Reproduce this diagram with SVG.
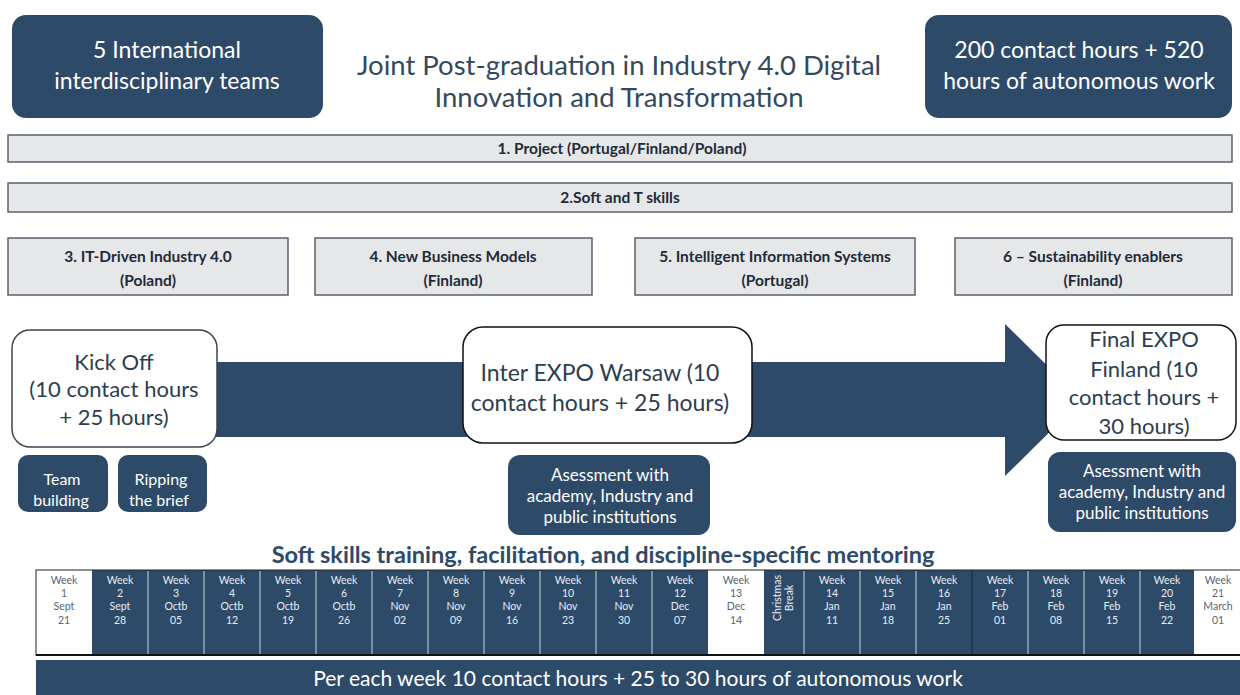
<svg xmlns="http://www.w3.org/2000/svg" width="1240" height="695" viewBox="0 0 1240 695">
<style>
text{font-family:Lato,"Open Sans","Liberation Sans",sans-serif;text-anchor:middle}
.dark{fill:#2e4a69}
.wt{fill:#ffffff}
.bar{fill:#e6e7e9;stroke:#59626d;stroke-width:1.5}
.bt{font-weight:bold;font-size:15.5px;fill:#1f2b38}
.big{font-size:22px;fill:#2c3e50}
.cell{font-size:10.5px}
.sm{font-size:17px;fill:#ffffff}
.sep{stroke:#c9d2dc;stroke-width:1}
</style>
<rect width="1240" height="695" fill="#ffffff"/>
<g id="teams">
<rect x="12" y="15" width="311" height="103" rx="14" class="dark"/>
<text x="167" y="58" font-size="23" class="wt">5 International</text>
<text x="167" y="89" font-size="23" class="wt">interdisciplinary teams</text>
</g>
<g id="title">
<text x="619" y="75" font-size="27.5" fill="#34495e">Joint Post-graduation in Industry 4.0 Digital</text>
<text x="619" y="107" font-size="27.5" fill="#34495e">Innovation and Transformation</text>
</g>
<g id="hours">
<rect x="925" y="15" width="307" height="103" rx="14" class="dark"/>
<text x="1079" y="58" font-size="23" class="wt">200 contact hours + 520</text>
<text x="1079" y="89" font-size="23" class="wt">hours of autonomous work</text>
</g>
<g id="m1"><rect x="8" y="135" width="1224" height="27" class="bar"/><text x="622" y="154" class="bt">1. Project (Portugal/Finland/Poland)</text></g>
<g id="m2"><rect x="8" y="183" width="1224" height="29" class="bar"/><text x="620" y="203" class="bt">2.Soft and T skills</text></g>
<g id="m3"><rect x="8" y="238" width="280" height="57" class="bar"/><text x="148" y="262" class="bt">3. IT-Driven Industry 4.0</text><text x="148" y="286" class="bt">(Poland)</text></g>
<g id="m4"><rect x="315" y="238" width="277" height="57" class="bar"/><text x="453" y="262" class="bt">4. New Business Models</text><text x="453" y="286" class="bt">(Finland)</text></g>
<g id="m5"><rect x="635" y="238" width="280" height="57" class="bar"/><text x="775" y="262" class="bt">5. Intelligent Information Systems</text><text x="775" y="286" class="bt">(Portugal)</text></g>
<g id="m6"><rect x="955" y="238" width="277" height="57" class="bar"/><text x="1093" y="262" class="bt">6 – Sustainability enablers</text><text x="1093" y="286" class="bt">(Finland)</text></g>
<g id="connectors">
<polygon points="200,362 1005,362 1005,324 1082,400 1005,476 1005,437 200,437" class="dark"/>
</g>
<g id="kickoff">
<rect x="12" y="330" width="205" height="117" rx="18" fill="#ffffff" stroke="#3a4550" stroke-width="1.5"/>
<text x="114" y="370" class="big">Kick Off</text>
<text x="114" y="397" class="big">(10 contact hours</text>
<text x="114" y="425" class="big">+ 25 hours)</text>
</g>
<g id="interexpo">
<rect x="463" y="327" width="289" height="116" rx="20" fill="#ffffff" stroke="#111111" stroke-width="1.5"/>
<text x="600" y="381" font-size="23" fill="#2c3e50">Inter EXPO Warsaw (10</text>
<text x="600" y="411" font-size="23" fill="#2c3e50">contact hours + 25 hours)</text>
</g>
<g id="finalexpo">
<rect x="1046" y="325" width="190" height="115" rx="18" fill="#ffffff" stroke="#111111" stroke-width="1.5"/>
<text x="1144" y="347" class="big">Final EXPO</text>
<text x="1144" y="377" class="big">Finland (10</text>
<text x="1144" y="405" class="big">contact hours +</text>
<text x="1144" y="434" class="big">30 hours)</text>
</g>
<g id="team"><rect x="18" y="455" width="90" height="57" rx="10" class="dark"/><text x="62" y="485" font-size="16" class="wt">Team</text><text x="61" y="506" font-size="16" class="wt">building</text></g>
<g id="ripping"><rect x="118" y="455" width="89" height="57" rx="10" class="dark"/><text x="161" y="485" font-size="16" class="wt">Ripping</text><text x="159" y="506" font-size="16" class="wt">the brief</text></g>
<g id="assess1"><rect x="508" y="455" width="202" height="80" rx="12" class="dark"/><text x="610" y="481" class="sm">Asessment with</text><text x="610" y="502" class="sm">academy, Industry and</text><text x="610" y="523" class="sm">public  institutions</text></g>
<g id="assess2"><rect x="1048" y="452" width="188" height="80" rx="12" class="dark"/><text x="1142" y="477" class="sm">Asessment with</text><text x="1142" y="498" class="sm">academy, Industry and</text><text x="1142" y="519" class="sm">public  institutions</text></g>
<g id="softskills"><text x="603" y="563" font-size="23.5" font-weight="bold" fill="#2e4a69">Soft skills training, facilitation, and discipline-specific mentoring</text></g>
<g id="weeks">
<rect x="36" y="570" width="1210" height="85" class="dark"/>
<rect x="36" y="570" width="56" height="85" fill="#ffffff"/>
<rect x="708" y="570" width="56" height="85" fill="#ffffff"/>
<rect x="1194" y="570" width="50" height="85" fill="#ffffff"/>
<g class="sep">
<line x1="148" y1="571" x2="148" y2="654"/><line x1="204" y1="571" x2="204" y2="654"/><line x1="260" y1="571" x2="260" y2="654"/><line x1="316" y1="571" x2="316" y2="654"/><line x1="372" y1="571" x2="372" y2="654"/><line x1="428" y1="571" x2="428" y2="654"/><line x1="484" y1="571" x2="484" y2="654"/><line x1="540" y1="571" x2="540" y2="654"/><line x1="596" y1="571" x2="596" y2="654"/><line x1="652" y1="571" x2="652" y2="654"/><line x1="804" y1="571" x2="804" y2="654"/><line x1="860" y1="571" x2="860" y2="654"/><line x1="916" y1="571" x2="916" y2="654"/><line x1="1028" y1="571" x2="1028" y2="654"/><line x1="1084" y1="571" x2="1084" y2="654"/><line x1="1140" y1="571" x2="1140" y2="654"/>
</g>
<line x1="972" y1="571" x2="972" y2="654" stroke="#1a2530" stroke-width="1"/>
<rect x="36" y="570" width="1210" height="85" fill="none" stroke="#222222" stroke-width="1"/>
<line x1="36" y1="655" x2="1240" y2="655" stroke="#111111" stroke-width="2"/>
<g class="cell" fill="#5a6570">
<text x="64" y="584">Week</text><text x="64" y="597">1</text><text x="64" y="610">Sept</text><text x="64" y="624">21</text>
<text x="736" y="584">Week</text><text x="736" y="597">13</text><text x="736" y="610">Dec</text><text x="736" y="624">14</text>
<text x="1218" y="584">Week</text><text x="1218" y="597">21</text><text x="1218" y="610">March</text><text x="1218" y="624">01</text>
</g>
<g class="cell" fill="#e8edf2">
<text x="120" y="584">Week</text><text x="120" y="597">2</text><text x="120" y="610">Sept</text><text x="120" y="624">28</text>
<text x="176" y="584">Week</text><text x="176" y="597">3</text><text x="176" y="610">Octb</text><text x="176" y="624">05</text>
<text x="232" y="584">Week</text><text x="232" y="597">4</text><text x="232" y="610">Octb</text><text x="232" y="624">12</text>
<text x="288" y="584">Week</text><text x="288" y="597">5</text><text x="288" y="610">Octb</text><text x="288" y="624">19</text>
<text x="344" y="584">Week</text><text x="344" y="597">6</text><text x="344" y="610">Octb</text><text x="344" y="624">26</text>
<text x="400" y="584">Week</text><text x="400" y="597">7</text><text x="400" y="610">Nov</text><text x="400" y="624">02</text>
<text x="456" y="584">Week</text><text x="456" y="597">8</text><text x="456" y="610">Nov</text><text x="456" y="624">09</text>
<text x="512" y="584">Week</text><text x="512" y="597">9</text><text x="512" y="610">Nov</text><text x="512" y="624">16</text>
<text x="568" y="584">Week</text><text x="568" y="597">10</text><text x="568" y="610">Nov</text><text x="568" y="624">23</text>
<text x="624" y="584">Week</text><text x="624" y="597">11</text><text x="624" y="610">Nov</text><text x="624" y="624">30</text>
<text x="680" y="584">Week</text><text x="680" y="597">12</text><text x="680" y="610">Dec</text><text x="680" y="624">07</text>
<text x="832" y="584">Week</text><text x="832" y="597">14</text><text x="832" y="610">Jan</text><text x="832" y="624">11</text>
<text x="888" y="584">Week</text><text x="888" y="597">15</text><text x="888" y="610">Jan</text><text x="888" y="624">18</text>
<text x="944" y="584">Week</text><text x="944" y="597">16</text><text x="944" y="610">Jan</text><text x="944" y="624">25</text>
<text x="1000" y="584">Week</text><text x="1000" y="597">17</text><text x="1000" y="610">Feb</text><text x="1000" y="624">01</text>
<text x="1056" y="584">Week</text><text x="1056" y="597">18</text><text x="1056" y="610">Feb</text><text x="1056" y="624">08</text>
<text x="1112" y="584">Week</text><text x="1112" y="597">19</text><text x="1112" y="610">Feb</text><text x="1112" y="624">15</text>
<text x="1167" y="584">Week</text><text x="1167" y="597">20</text><text x="1167" y="610">Feb</text><text x="1167" y="624">22</text>
<g transform="translate(784,598) rotate(-90)"><text x="0" y="-3">Christmas</text><text x="0" y="9">Break</text></g>
</g>
</g>
<g id="footer">
<rect x="36" y="660" width="1210" height="36" class="dark"/>
<text x="638" y="686" font-size="21" class="wt">Per each week 10 contact hours + 25 to 30 hours of autonomous work</text>
</g>
</svg>
